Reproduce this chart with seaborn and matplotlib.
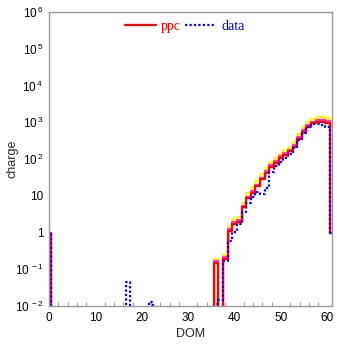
import numpy as np
import pandas as pd
import matplotlib
matplotlib.use("Agg")
import matplotlib.pyplot as plt
from matplotlib.lines import Line2D
import seaborn as sns

# ---- data (bin centres 0..61, one DOM per bin) ----
dom = list(range(62))

def fill(pairs):
    v = [0.0] * 62
    for k, val in pairs.items():
        v[k] = val
    return v

red_vals = fill({0: 1, 36: 0.15, 38: 0.19, 39: 1.1, 40: 1.7, 41: 1.9, 42: 4.8, 43: 8.5,
                 44: 12, 45: 18, 46: 28, 47: 42, 48: 62, 49: 78, 50: 105, 51: 130,
                 52: 160, 53: 215, 54: 360, 55: 550, 56: 760, 57: 930, 58: 1020,
                 59: 1020, 60: 960, 61: 1})
magenta_vals = fill({0: 1, 36: 0.17, 38: 0.21, 39: 1.25, 40: 1.95, 41: 2.2, 42: 5.4, 43: 9.5,
                     44: 13.5, 45: 20, 46: 31, 47: 47, 48: 70, 49: 87, 50: 118, 51: 145,
                     52: 180, 53: 240, 54: 400, 55: 610, 56: 840, 57: 1030, 58: 1120,
                     59: 1120, 60: 1060, 61: 1})
yellow_vals = fill({0: 1, 36: 0.19, 38: 0.24, 39: 1.5, 40: 2.3, 41: 2.6, 42: 6.5, 43: 12,
                    44: 17, 45: 25, 46: 38, 47: 58, 48: 85, 49: 105, 50: 140, 51: 175,
                    52: 215, 53: 290, 54: 480, 55: 720, 56: 1000, 57: 1250, 58: 1380,
                    59: 1400, 60: 1320, 61: 1})
data_vals = fill({0: 1, 17: 0.045, 22: 0.013, 37: 0.015, 38: 0.17, 39: 0.6, 40: 1.05, 41: 1.7,
                  42: 3.6, 43: 6.5, 44: 9, 45: 13, 46: 11, 47: 16, 48: 45, 49: 65,
                  50: 85, 51: 105, 52: 140, 53: 200, 54: 330, 55: 520, 56: 740,
                  57: 880, 58: 880, 59: 820, 60: 720, 61: 1})

ytick_vals = [1e-2, 1e-1, 1, 10, 1e2, 1e3, 1e4, 1e5, 1e6]
ytick_labels = [r"$\mathrm{10^{\,-2}}$", r"$\mathrm{10^{\,-1}}$", "1", "10",
                r"$\mathrm{10^{\,2}}$", r"$\mathrm{10^{\,3}}$", r"$\mathrm{10^{\,4}}$",
                r"$\mathrm{10^{\,5}}$", r"$\mathrm{10^{\,6}}$"]
xtick_vals = [0, 10, 20, 30, 40, 50, 60]
legend_labels = ["ppc", "data"]

# ---- style ----
sns.set_style("white")
plt.rcParams["font.family"] = ["Liberation Sans", "DejaVu Sans"]
plt.rcParams["mathtext.fontset"] = "custom"
plt.rcParams["mathtext.rm"] = "Liberation Sans"

fig = plt.figure(figsize=(3.37, 3.44), dpi=100)
ax = fig.add_axes([49 / 337, 1 - 306 / 344, (332 - 49) / 337, (306 - 12) / 344])

series = [
    (yellow_vals, "#ffff00", "-", 1.6),
    (magenta_vals, "#ff33cc", "-", 1.6),
    (red_vals, "#ff0000", "-", 1.6),
    (data_vals, "#0000ff", (0, (1.0, 1.0)), 1.6),
]
for vals, col, ls, lw in series:
    df = pd.DataFrame({"DOM": dom, "charge": vals})
    sns.histplot(data=df, x="DOM", weights="charge", discrete=True, element="step",
                 fill=False, color=col, linestyle=ls, linewidth=lw, ax=ax)

ax.set_yscale("log")
ax.set_xlim(0, 61)
ax.set_ylim(1e-2, 1e6)

ax.set_yticks(ytick_vals)
ax.set_yticklabels(ytick_labels)
ax.yaxis.set_minor_locator(matplotlib.ticker.NullLocator())
ax.set_xticks(xtick_vals)
ax.set_xticklabels([str(v) for v in xtick_vals])
ax.xaxis.set_minor_locator(matplotlib.ticker.MultipleLocator(2))

ax.tick_params(axis="both", which="both", direction="in", color="#888888",
               labelsize=8.5, labelcolor="black")
ax.tick_params(axis="x", which="major", length=6, pad=4)
ax.tick_params(axis="x", which="minor", length=3, bottom=True)
ax.tick_params(axis="y", which="major", length=4, pad=4)

for s in ax.spines.values():
    s.set_color("#999999")
    s.set_linewidth(1.0)

ax.set_xlabel("DOM", fontsize=9, labelpad=3)
ax.set_ylabel("charge", fontsize=9)
ax.yaxis.set_label_coords(-0.108, 0.5)

handles = [Line2D([], [], color="#ff0000", lw=1.6),
           Line2D([], [], color="#0000ff", lw=1.6, linestyle=(0, (1.0, 1.0)))]
leg = ax.legend(handles, legend_labels, loc="upper center", ncol=2, frameon=False,
                prop={"family": "Liberation Serif", "size": 10}, handlelength=2.2,
                handletextpad=0.4, columnspacing=0.3, bbox_to_anchor=(0.48, 1.0),
                borderaxespad=0.2)
for t, c in zip(leg.get_texts(), ["#ff0000", "#0000ff"]):
    t.set_color(c)

fig.savefig("out.png", dpi=100)
